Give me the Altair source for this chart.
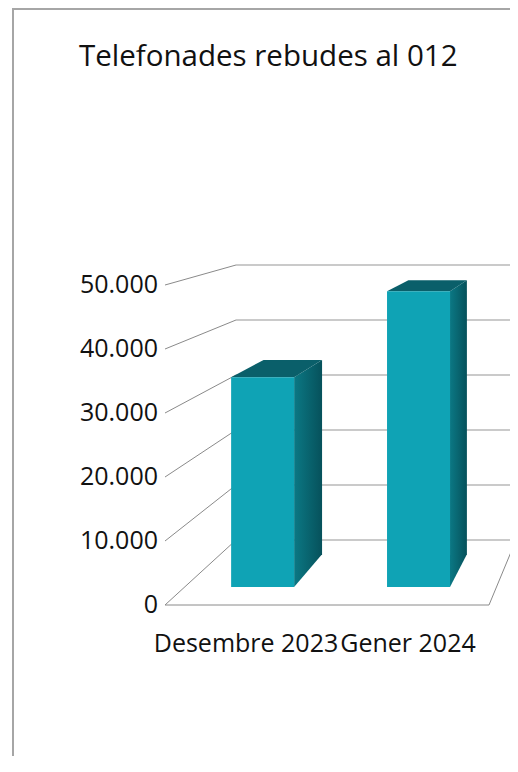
import altair as alt
import pandas as pd

# ---------------- data ----------------
categories = ["Desembre 2023", "Gener 2024"]
values = [34100, 48100]
tick_values = [0, 10000, 20000, 30000, 40000, 50000]
tick_labels = ["0", "10.000", "20.000", "30.000", "40.000", "50.000"]
title_text = "Telefonades rebudes al 012"

# ---------------- 3D look (style parameters) ----------------
N_BANDS = len(categories)
SHRINK_X = 0.1358      # back plane is narrower than the front plane
SHIFT_X = 0.4383       # back plane is shifted right (band units)
SHRINK_Y = 0.140625    # back plane value scale is smaller
SHIFT_Y = 10156.25     # back plane is shifted up (value units)
BAR_HALF = 0.202       # half bar width in band units
Z_FRONT, Z_BACK = 0.277, 0.78   # bar depth range (0 = front, 1 = back wall)

W, H = 498, 748
X_DOMAIN = [-153 / 162, (W - 153) / 162]
Y_DOMAIN = [-23593.75, 93281.25]


def px(b, z):
    return b * (1 - SHRINK_X * z) + SHIFT_X * z


def py(v, z):
    return v * (1 - SHRINK_Y * z) + SHIFT_Y * z


xs = alt.Scale(domain=X_DOMAIN, nice=False, zero=False)
ys = alt.Scale(domain=Y_DOMAIN, nice=False, zero=False)


def X(field):
    return alt.X(field, type="quantitative", scale=xs, axis=None, stack=None)


def Y(field):
    return alt.Y(field, type="quantitative", scale=ys, axis=None, stack=None)


# ---------------- walls / floor ----------------
back_rows, left_rows, floor_rows = [], [], []
for t in tick_values:
    for o, b in enumerate([0, N_BANDS]):
        back_rows.append({"seg": f"b{t}", "o": o, "x": px(b, 1), "y": py(t, 1)})
    for o, z in enumerate([0, 1]):
        left_rows.append({"seg": f"l{t}", "o": o, "x": px(0, z), "y": py(t, z)})
for o, (b, z) in enumerate([(0, 0), (N_BANDS, 0), (N_BANDS, 1)]):
    floor_rows.append({"seg": "floor", "o": o, "x": px(b, z), "y": py(0, z)})

back_df = pd.DataFrame(back_rows)
left_df = pd.DataFrame(left_rows)
floor_df = pd.DataFrame(floor_rows)

back_lines = alt.Chart(back_df).mark_line(color="#b8b8b8", strokeWidth=1.3).encode(
    x=X("x"), y=Y("y"), detail="seg:N", order="o:Q")
left_lines = alt.Chart(left_df).mark_line(color="#8a8a8a", strokeWidth=1).encode(
    x=X("x"), y=Y("y"), detail="seg:N", order="o:Q")
floor_lines = alt.Chart(floor_df).mark_line(color="#8a8a8a", strokeWidth=1).encode(
    x=X("x"), y=Y("y"), detail="seg:N", order="o:Q")

# ---------------- bars ----------------
front_rows, side_rows, top_rows = [], [], []
for i, (c, v) in enumerate(zip(categories, values)):
    bl, br = i + 0.5 - BAR_HALF, i + 0.5 + BAR_HALF
    front_rows.append({"cat": c, "x": px(bl, Z_FRONT), "x2": px(br, Z_FRONT),
                       "y": py(0, Z_FRONT), "y2": py(v, Z_FRONT)})
    for z in [Z_FRONT, Z_BACK]:
        side_rows.append({"cat": c, "x": px(br, z), "y": py(0, z), "y2": py(v, z)})
        top_rows.append({"cat": c, "y": py(v, z), "x": px(bl, z), "x2": px(br, z)})

front_df = pd.DataFrame(front_rows)
side_df = pd.DataFrame(side_rows)
top_df = pd.DataFrame(top_rows)

side_grad = alt.Gradient(
    gradient="linear", x1=0, x2=1, y1=0, y2=0,
    stops=[alt.GradientStop(color="#0b7884", offset=0),
           alt.GradientStop(color="#06515b", offset=1)])

sides = alt.Chart(side_df).mark_area(color=side_grad, orient="vertical").encode(
    x=X("x"), y=Y("y"), y2="y2", detail="cat:N")
tops = alt.Chart(top_df).mark_area(color="#0a5f6a", orient="horizontal").encode(
    y=Y("y"), x=X("x"), x2="x2", detail="cat:N")
fronts = alt.Chart(front_df).mark_rect(color="#0fa3b5").encode(
    x=X("x"), x2="x2", y=Y("y"), y2="y2")

# ---------------- text ----------------
tick_df = pd.DataFrame({"v": tick_values, "label": tick_labels, "x": [0.0] * len(tick_values)})
tick_text = alt.Chart(tick_df).mark_text(
    align="right", baseline="middle", dx=-7, font="Open Sans", fontSize=25, color="#111111"
).encode(x=X("x"), y=Y("v"), text="label:N")

cat_df = pd.DataFrame({"cat": categories, "x": [i + 0.5 for i in range(N_BANDS)], "y": [0.0] * N_BANDS})
cat_text = alt.Chart(cat_df).mark_text(
    align="center", baseline="alphabetic", dy=47, font="Open Sans", fontSize=25, color="#111111"
).encode(x=X("x"), y=Y("y"), text="cat:N")

title_df = pd.DataFrame({"t": [title_text]})
title = alt.Chart(title_df).mark_text(
    align="left", baseline="alphabetic", font="Open Sans", fontSize=29.5, color="#111111"
).encode(x=alt.value(67), y=alt.value(58), text="t:N")

# ---------------- border ----------------
border_df = pd.DataFrame({"k": [0]})
left_border = alt.Chart(border_df).mark_rule(color="#a6a6a6", strokeWidth=2).encode(
    x=alt.value(1), y=alt.value(0), y2=alt.value(H))
top_border = alt.Chart(border_df).mark_rule(color="#a6a6a6", strokeWidth=2).encode(
    x=alt.value(0), x2=alt.value(W), y=alt.value(1))

chart = alt.layer(
    left_border, top_border, back_lines, left_lines, floor_lines,
    sides, tops, fronts, tick_text, cat_text, title
).properties(
    width=W, height=H,
    autosize=alt.AutoSizeParams(type="none"),
    padding={"left": 4, "top": 0, "right": 0, "bottom": 0},
).configure_view(stroke=None)

chart.save("out.html", embed_options={"renderer": "svg", "actions": False})
